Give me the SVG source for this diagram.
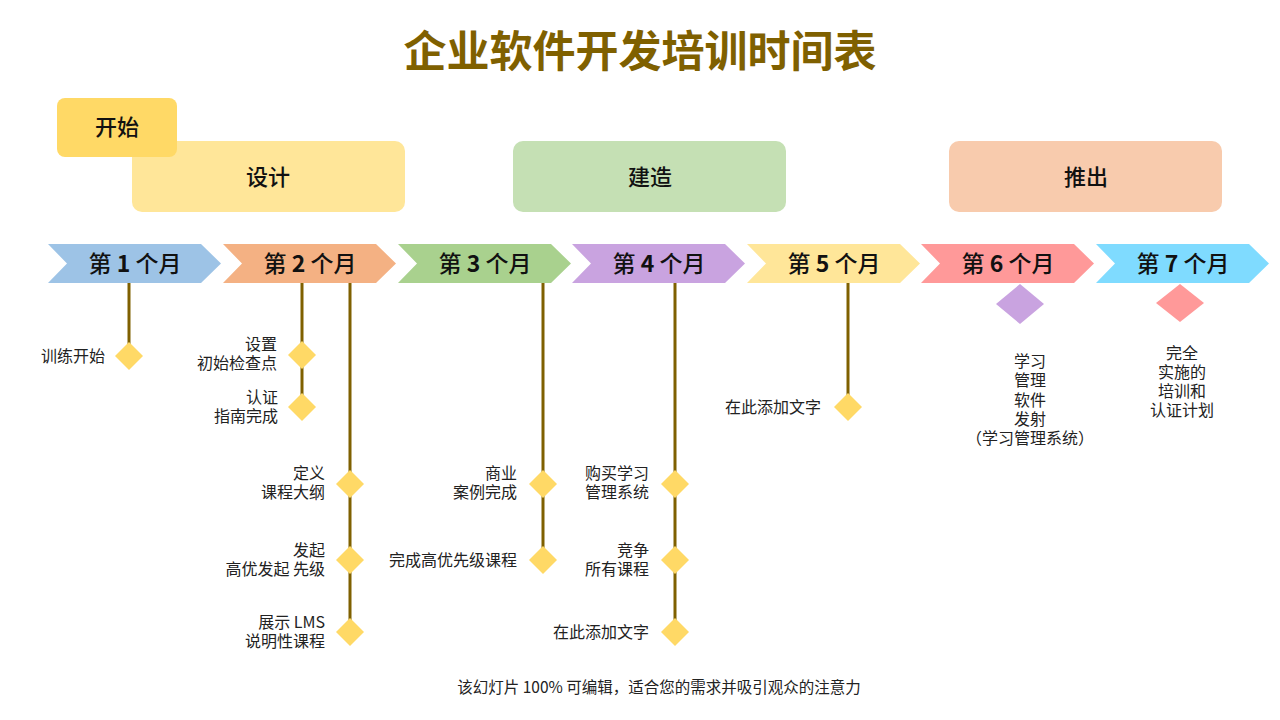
<svg xmlns="http://www.w3.org/2000/svg" width="1280" height="720" viewBox="0 0 1280 720">
<style>
.title{font-family:"Noto Sans CJK SC","Liberation Serif",serif;font-size:43px;font-weight:bold;fill:#7F6000;text-anchor:middle}
.phase{font-family:"Noto Sans CJK SC",sans-serif;font-size:22px;font-weight:500;fill:#111;text-anchor:middle}
.mon{font-family:"Noto Sans CJK SC",sans-serif;font-size:23px;font-weight:500;fill:#111;text-anchor:middle}
.num{font-weight:bold}
.lbl{font-family:"Noto Sans CJK SC",sans-serif;font-size:16px;fill:#222;text-anchor:end}
.lblc{font-family:"Noto Sans CJK SC",sans-serif;font-size:16px;fill:#222;text-anchor:middle}
.foot{font-family:"Noto Sans CJK SC",sans-serif;font-size:15.5px;fill:#222;text-anchor:middle}
.vl{stroke:#7F6000;stroke-width:3;fill:none}
.dm{fill:#FFD966}
</style>
<defs>
<polygon id="chev" points="0,0 153,0 173,19.5 153,39 0,39 19,19.5"/>
<polygon id="dia" points="0,-14 14,0 0,14 -14,0"/>
</defs>
<rect width="1280" height="720" fill="#ffffff"/>
<text class="title" x="640" y="67">企业软件开发培训时间表</text>

<g id="phase-design"><rect x="132" y="141" width="273" height="71" rx="10" fill="#FFE699"/><text class="phase" x="268" y="185">设计</text></g>
<g id="phase-start"><rect x="57" y="98" width="120" height="59" rx="8" fill="#FFD966"/><text class="phase" x="117" y="135">开始</text></g>
<g id="phase-build"><rect x="513" y="141" width="273" height="71" rx="10" fill="#C5E0B4"/><text class="phase" x="650" y="185">建造</text></g>
<g id="phase-launch"><rect x="949" y="141" width="273" height="71" rx="10" fill="#F8CBAD"/><text class="phase" x="1086" y="185">推出</text></g>

<g id="connectors">
<line class="vl" x1="129" y1="283" x2="129" y2="350"/>
<line class="vl" x1="302" y1="283" x2="302" y2="402"/>
<line class="vl" x1="350" y1="283" x2="350" y2="626"/>
<line class="vl" x1="543" y1="283" x2="543" y2="555"/>
<line class="vl" x1="675" y1="283" x2="675" y2="626"/>
<line class="vl" x1="848" y1="283" x2="848" y2="402"/>
</g>

<g id="m1"><use href="#chev" x="48" y="244" fill="#9DC3E6"/><text class="mon" x="135" y="272">第 <tspan class="num">1</tspan> 个月</text></g>
<g id="m2"><use href="#chev" x="223" y="244" fill="#F4B183"/><text class="mon" x="310" y="272">第 <tspan class="num">2</tspan> 个月</text></g>
<g id="m3"><use href="#chev" x="398" y="244" fill="#A9D18E"/><text class="mon" x="485" y="272">第 <tspan class="num">3</tspan> 个月</text></g>
<g id="m4"><use href="#chev" x="572" y="244" fill="#C9A3E0"/><text class="mon" x="659" y="272">第 <tspan class="num">4</tspan> 个月</text></g>
<g id="m5"><use href="#chev" x="747" y="244" fill="#FFE699"/><text class="mon" x="834" y="272">第 <tspan class="num">5</tspan> 个月</text></g>
<g id="m6"><use href="#chev" x="921" y="244" fill="#FF9999"/><text class="mon" x="1008" y="272">第 <tspan class="num">6</tspan> 个月</text></g>
<g id="m7"><use href="#chev" x="1096" y="244" fill="#7FDBFF"/><text class="mon" x="1183" y="272">第 <tspan class="num">7</tspan> 个月</text></g>

<g id="ms1"><use href="#dia" x="129" y="356" class="dm"/><text class="lbl" x="105" y="362">训练开始</text></g>
<g id="ms2"><use href="#dia" x="302" y="355" class="dm"/><text class="lbl" x="277" y="350">设置</text><text class="lbl" x="277" y="369">初始检查点</text></g>
<g id="ms3"><use href="#dia" x="302" y="407" class="dm"/><text class="lbl" x="278" y="403">认证</text><text class="lbl" x="278" y="422">指南完成</text></g>
<g id="ms4"><use href="#dia" x="350" y="484" class="dm"/><text class="lbl" x="325" y="479">定义</text><text class="lbl" x="325" y="498">课程大纲</text></g>
<g id="ms5"><use href="#dia" x="350" y="560" class="dm"/><text class="lbl" x="325" y="556">发起</text><text class="lbl" x="325" y="575">高优发起 先级</text></g>
<g id="ms6"><use href="#dia" x="350" y="632" class="dm"/><text class="lbl" x="325" y="628">展示 LMS</text><text class="lbl" x="325" y="647">说明性课程</text></g>
<g id="ms7"><use href="#dia" x="543" y="484" class="dm"/><text class="lbl" x="517" y="479">商业</text><text class="lbl" x="517" y="498">案例完成</text></g>
<g id="ms8"><use href="#dia" x="543" y="560" class="dm"/><text class="lbl" x="517" y="566">完成高优先级课程</text></g>
<g id="ms9"><use href="#dia" x="675" y="484" class="dm"/><text class="lbl" x="649" y="479">购买学习</text><text class="lbl" x="649" y="498">管理系统</text></g>
<g id="ms10"><use href="#dia" x="675" y="560" class="dm"/><text class="lbl" x="649" y="556">竞争</text><text class="lbl" x="649" y="575">所有课程</text></g>
<g id="ms11"><use href="#dia" x="675" y="632" class="dm"/><text class="lbl" x="649" y="638">在此添加文字</text></g>
<g id="ms12"><use href="#dia" x="848" y="407" class="dm"/><text class="lbl" x="821" y="413">在此添加文字</text></g>
<g id="ms13"><polygon points="1020,284 1044,304 1020,324 996,304" fill="#C9A3E0"/>
<text class="lblc" x="1030" y="367">学习</text><text class="lblc" x="1030" y="386">管理</text><text class="lblc" x="1030" y="406">软件</text><text class="lblc" x="1030" y="425">发射</text><text class="lblc" x="1030" y="444">（学习管理系统）</text></g>
<g id="ms14"><polygon points="1180,284 1204,303 1180,322 1156,303" fill="#FF9999"/>
<text class="lblc" x="1182" y="359">完全</text><text class="lblc" x="1182" y="378">实施的</text><text class="lblc" x="1182" y="397">培训和</text><text class="lblc" x="1182" y="416">认证计划</text></g>

<text class="foot" x="659" y="693">该幻灯片 100% 可编辑，适合您的需求并吸引观众的注意力</text>
</svg>
